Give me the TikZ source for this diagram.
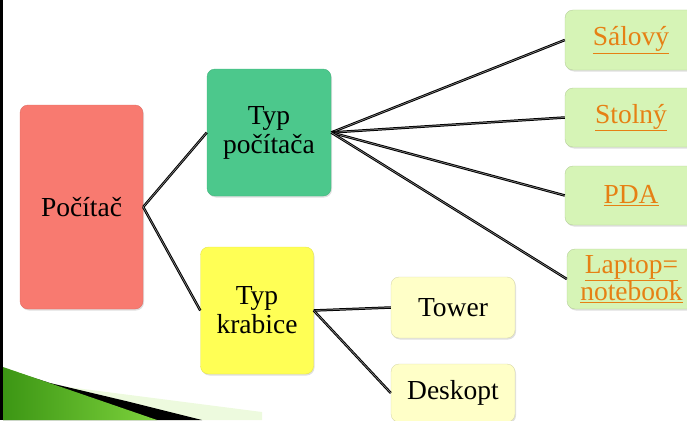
\documentclass[tikz,border=0pt]{standalone}
\usepackage{fontspec}
\setmainfont{Liberation Serif}
\usetikzlibrary{shadows}
\definecolor{cSalmon}{RGB}{248,122,112}
\definecolor{cGreen}{RGB}{76,200,140}
\definecolor{cYellow}{RGB}{255,255,85}
\definecolor{cLightGreen}{RGB}{214,244,182}
\definecolor{cLightYellow}{RGB}{255,255,200}
\definecolor{cOrange}{RGB}{230,128,20}
\definecolor{cDarkGreen}{RGB}{60,150,20}
\definecolor{cBrightGreen}{RGB}{125,210,60}
\tikzset{
  box/.style={rectangle, rounded corners=8pt, align=center, inner sep=2pt,
    font=\fontsize{27.5}{29}\selectfont, text=black,
    drop shadow={opacity=0.25, shadow xshift=1pt, shadow yshift=-1.5pt}},
  leaf/.style={box, fill=cLightGreen, draw=cLightGreen!85!black, line width=0.4pt,
    text=cOrange, minimum width=132pt},
  small/.style={box, fill=cLightYellow, draw=cLightYellow!85!black, line width=0.4pt,
    minimum width=124pt},
  conn/.style={draw=black, line width=1pt, double=black!40, double distance=0.5pt}
}
\begin{document}
\begin{tikzpicture}[x=1pt,y=1pt]
\useasboundingbox (0,0) rectangle (687,-420);
\clip (0,0) rectangle (687,-420);
% bottom-left decoration
\fill[cLightGreen!45] (60,-386) -- (262,-412) -- (262,-420) -- (60,-420) -- cycle;
\fill[black] (3,-368) -- (50,-383) -- (130,-402) -- (202,-420) -- (3,-420) -- cycle;
\shade[left color=cDarkGreen, right color=cBrightGreen] (3,-367) -- (157,-420) -- (3,-420) -- cycle;
\draw[line width=3pt] (1.5,0) -- (1.5,-420);
% nodes
\node[box, fill=cSalmon, draw=cSalmon!90!black, line width=0.4pt, minimum width=123pt, minimum height=204pt] (pc) at (81.5,-207) {Počítač};
\node[box, fill=cGreen, draw=cGreen!90!black, line width=0.4pt, minimum width=124pt, minimum height=127pt] (typpc) at (269,-132.5) {Typ\\počítača};
\node[box, fill=cYellow, draw=cYellow!90!black, line width=0.4pt, minimum width=113pt, minimum height=127pt] (typkr) at (257,-310.5) {Typ\\krabice};
\node[leaf, minimum height=60pt] (sal) at (631,-40) {\underline{Sálový}};
\node[leaf, minimum height=59pt] (sto) at (631,-117.5) {\underline{Stolný}};
\node[leaf, minimum height=59pt] (pda) at (631,-195.5) {\underline{PDA}};
\node[leaf, minimum height=60pt, minimum width=129pt, font=\fontsize{27.5}{27}\selectfont] (lap) at (631.5,-279) {\underline{Laptop=}\\\underline{notebook}};
\node[small, minimum height=61pt] (tow) at (453,-307.5) {Tower};
\node[small, minimum height=58pt] (des) at (453,-393) {Deskopt};
% connectors
\draw[conn] (pc.east) -- (typpc.west);
\draw[conn] (pc.east) -- (typkr.west);
\draw[conn] (typpc.east) -- (sal.west);
\draw[conn] (typpc.east) -- (sto.west);
\draw[conn] (typpc.east) -- (pda.west);
\draw[conn] (typpc.east) -- (lap.west);
\draw[conn] (typkr.east) -- (tow.west);
\draw[conn] (typkr.east) -- (des.west);
\end{tikzpicture}
\end{document}
